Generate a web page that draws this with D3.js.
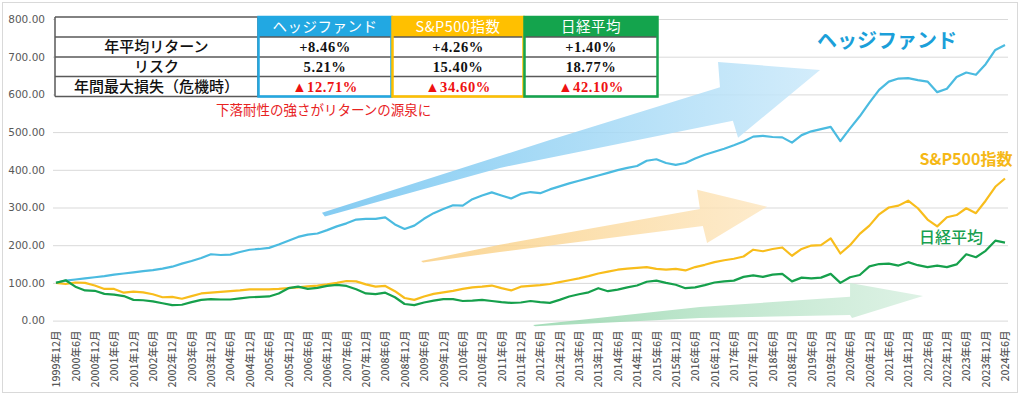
<!DOCTYPE html>
<html><head><meta charset="utf-8">
<script src="https://cdn.jsdelivr.net/npm/d3@7"></script>
<style>body{margin:0;background:#fff}</style>
</head><body><svg id="c" width="1024" height="400"></svg>
<script>
// ---------- DATA ----------
// category = months since 1999年12月, sampled quarterly
const quarterMonths = d3.range(0, 295, 3);
const tickMonths = d3.range(0, 295, 6);
const tickLabels = ["1999年12月","2000年6月","2000年12月","2001年6月","2001年12月","2002年6月","2002年12月","2003年6月","2003年12月","2004年6月","2004年12月","2005年6月","2005年12月","2006年6月","2006年12月","2007年6月","2007年12月","2008年6月","2008年12月","2009年6月","2009年12月","2010年6月","2010年12月","2011年6月","2011年12月","2012年6月","2012年12月","2013年6月","2013年12月","2014年6月","2014年12月","2015年6月","2015年12月","2016年6月","2016年12月","2017年6月","2017年12月","2018年6月","2018年12月","2019年6月","2019年12月","2020年6月","2020年12月","2021年6月","2021年12月","2022年6月","2022年12月","2023年6月","2023年12月","2024年6月"];
const hedgeFund = [100,106,109,112,115,118,122,125,128,131,134,138,143,151,158,166,176,174,175,182,188,190,193,202,212,222,228,231,240,250,258,268,270,270,274,255,243,252,270,285,296,306,305,322,332,340,332,324,336,341,338,348,356,364,371,378,385,392,399,405,410,424,428,418,413,418,430,440,448,456,465,475,488,490,487,486,472,492,502,508,514,476,510,542,578,612,634,642,643,638,634,606,615,646,658,652,680,718,731];
const sp500 = [100,97,101,100,93,84,84,74,77,75,70,62,63,58,65,72,74,76,78,80,83,83,83,84,86,88,91,93,96,100,105,104,96,90,92,78,60,55,64,71,75,79,84,88,90,93,86,80,90,92,94,97,102,107,112,118,125,130,135,138,140,142,137,135,137,133,142,148,155,160,164,170,188,184,190,194,172,190,199,200,218,178,200,230,252,282,300,305,318,298,268,250,274,280,298,285,318,355,377];
const nikkei = [100,107,90,80,79,71,69,65,55,54,51,46,41,42,49,55,57,56,56,59,62,63,64,72,86,90,84,87,92,95,92,83,72,70,74,62,44,41,48,53,57,57,52,53,55,52,49,47,48,52,49,47,55,64,70,75,86,78,82,88,93,103,106,100,95,86,88,94,101,104,106,116,120,116,122,124,104,114,112,114,124,100,115,121,144,150,151,146,155,147,142,146,142,149,176,168,185,212,207];
const yTicks = [0,100,200,300,400,500,600,700,800];
const seriesNames = ["ヘッジファンド","S&P500指数","日経平均"];
const rowLabels = ["年平均リターン","リスク","年間最大損失（危機時）"];
const annualReturn = ["+8.46%","+4.26%","+1.40%"];
const riskValues = ["5.21%","15.40%","18.77%"];
const maxLoss = ["▲12.71%","▲34.60%","▲42.10%"];
const note = "下落耐性の強さがリターンの源泉に";
// decorative arrows, in data coordinates [month, value]
const arrowHedge = [[82.4,286],[153,479],[205.7,619],[205.1,686],[236.7,665],[211.3,485],[209.7,530],[137.5,405],[83.3,276]];
const arrowSP = [[113.1,158],[137.5,201],[199.5,296],[198.6,347],[220.3,302],[201.7,206],[200.4,251],[137.5,182],[113.7,154]];
const arrowNikkei = [[147.8,-12],[199.5,36],[246,63],[246,100],[268.6,65],[246.6,7],[246,15],[199.5,7],[148.4,-15]];

// ---------- STYLE ----------
const colors = ["#4bbbe0","#f8bd1c","#16a04c"];
const headFill = ["#22a8e2","#ffc000","#14a44d"];
const labelColors = ["#1b9fd9","#f5b816","#17a050"];

const svg = d3.select("#c");
svg.append("rect").attr("x",2.5).attr("y",2.5).attr("width",1015).attr("height",390)
  .attr("fill","#fff").attr("stroke","#d9d9d9");

const x = d3.scaleLinear().domain([0,294]).range([56,1005]);
const y = d3.scaleLinear().domain([0,800]).range([320.6,19]);

// y axis + gridlines
const yAxis = svg.append("g").attr("transform","translate(53,0)")
  .call(d3.axisLeft(y).tickValues(yTicks).tickFormat(d3.format(".2f")).tickSize(-955).tickPadding(8));
yAxis.select(".domain").remove();
yAxis.selectAll("line").attr("stroke","#d9d9d9");
yAxis.selectAll("text").attr("fill","#595959").style("font-family","'DejaVu Sans'").style("font-size","10.5px");

// x axis
const xAxis = svg.append("g").attr("transform","translate(0,320.6)")
  .call(d3.axisBottom(x).tickValues(tickMonths).tickFormat((d,i)=>tickLabels[i]).tickSize(0));
xAxis.select(".domain").remove();
xAxis.selectAll("text").attr("transform","rotate(-90)").attr("x",-10).attr("y",0).attr("dy","0.35em")
  .attr("text-anchor","end").attr("fill","#595959")
  .style("font-family","'Noto Sans CJK JP'").style("font-size","10.5px").style("font-weight",500);

// arrows
const defs = svg.append("defs");
const grads = [["gB","#6fc3f0","#cbe9fa",0.85],["gS","#f9cc7a","#fde6bf",0.8],["gN","#8fd4a8","#d6efdf",0.8]];
grads.forEach(g=>{
  const lg = defs.append("linearGradient").attr("id",g[0]).attr("x1","0").attr("x2","1").attr("y1","0").attr("y2","0");
  lg.append("stop").attr("offset","0").attr("stop-color",g[1]).attr("stop-opacity",g[3]);
  lg.append("stop").attr("offset","1").attr("stop-color",g[2]).attr("stop-opacity",g[3]);
});
const arrowLine = d3.line().x(d=>x(d[0])).y(d=>y(d[1])).curve(d3.curveLinearClosed);
[[arrowHedge,"gB"],[arrowSP,"gS"],[arrowNikkei,"gN"]].forEach(a=>{
  svg.append("path").attr("d",arrowLine(a[0])).attr("fill","url(#"+a[1]+")");
});

// lines
const line = d3.line().x((d,i)=>x(quarterMonths[i])).y(d=>y(d));
[hedgeFund,sp500,nikkei].forEach((s,k)=>{
  svg.append("path").datum(s).attr("d",line).attr("fill","none")
    .attr("stroke",colors[k]).attr("stroke-width",2.2).attr("stroke-linejoin","round");
});

// series labels
const lab = [[887,41,20,700],[966,159,16,700],[951,237,16,500]];
seriesNames.forEach((n,i)=>{
  svg.append("text").attr("x",lab[i][0]).attr("y",lab[i][1]).attr("dy","0.35em").attr("text-anchor","middle")
    .attr("fill",labelColors[i]).style("font-family","'Noto Sans CJK JP'")
    .style("font-size",lab[i][2]+"px").style("font-weight",lab[i][3]).text(n);
});

// table
const colX = [55,258,392,524,658];
const rowY = [17,37,57,76.5,96.5];
const tg = svg.append("g");
tg.append("rect").attr("x",colX[0]).attr("y",rowY[0]).attr("width",colX[4]-colX[0]).attr("height",rowY[4]-rowY[0]).attr("fill","#fff");
for(let c=0;c<3;c++){
  tg.append("rect").attr("x",colX[c+1]).attr("y",rowY[0]).attr("width",colX[c+2]-colX[c+1]).attr("height",rowY[1]-rowY[0]).attr("fill",headFill[c]);
}
rowY.forEach((ry,i)=>{
  tg.append("line").attr("x1",colX[0]).attr("x2",colX[4]).attr("y1",ry).attr("y2",ry)
    .attr("stroke","#595959").attr("stroke-width",1.5);
});
[colX[0],colX[1]].forEach(cx=>{
  tg.append("line").attr("x1",cx).attr("x2",cx).attr("y1",rowY[0]).attr("y2",rowY[4]).attr("stroke","#595959").attr("stroke-width",1.5);
});
for(let c=0;c<3;c++){
  tg.append("rect").attr("x",colX[c+1]+0.5).attr("y",rowY[0]).attr("width",colX[c+2]-colX[c+1]-1).attr("height",rowY[4]-rowY[0])
    .attr("fill","none").attr("stroke",headFill[c]).attr("stroke-width",2.5);
}
const cx = i => (colX[i]+colX[i+1])/2;
const cy = i => (rowY[i]+rowY[i+1])/2;
seriesNames.forEach((n,c)=>{
  tg.append("text").attr("x",cx(c+1)).attr("y",cy(0)).attr("dy","0.36em").attr("text-anchor","middle")
    .attr("fill","#fff").style("font-family","'Noto Sans CJK JP'").style("font-size","14.5px").style("letter-spacing","0.5px").text(n);
});
rowLabels.forEach((n,r)=>{
  tg.append("text").attr("x",cx(0)).attr("y",cy(r+1)).attr("dy","0.36em").attr("text-anchor","middle")
    .attr("fill","#111").style("font-family","'Noto Sans CJK JP'").style("font-size","15px").style("font-weight",500).text(n);
});
[annualReturn,riskValues,maxLoss].forEach((arr,r)=>{
  arr.forEach((v,c)=>{
    tg.append("text").attr("x",cx(c+1)).attr("y",cy(r+1)).attr("dy","0.36em").attr("text-anchor","middle")
      .attr("fill", r===2 ? "#ee1111" : "#111")
      .style("font-family","'Liberation Serif','Noto Sans CJK JP'").style("font-size","14.5px").style("font-weight",700).style("letter-spacing","0.6px").text(v);
  });
});
svg.append("text").attr("x",216).attr("y",110).attr("dy","0.36em").attr("fill","#e8231f")
  .style("font-family","'Noto Sans CJK JP'").style("font-size","13.5px").text(note);
</script></body></html>
